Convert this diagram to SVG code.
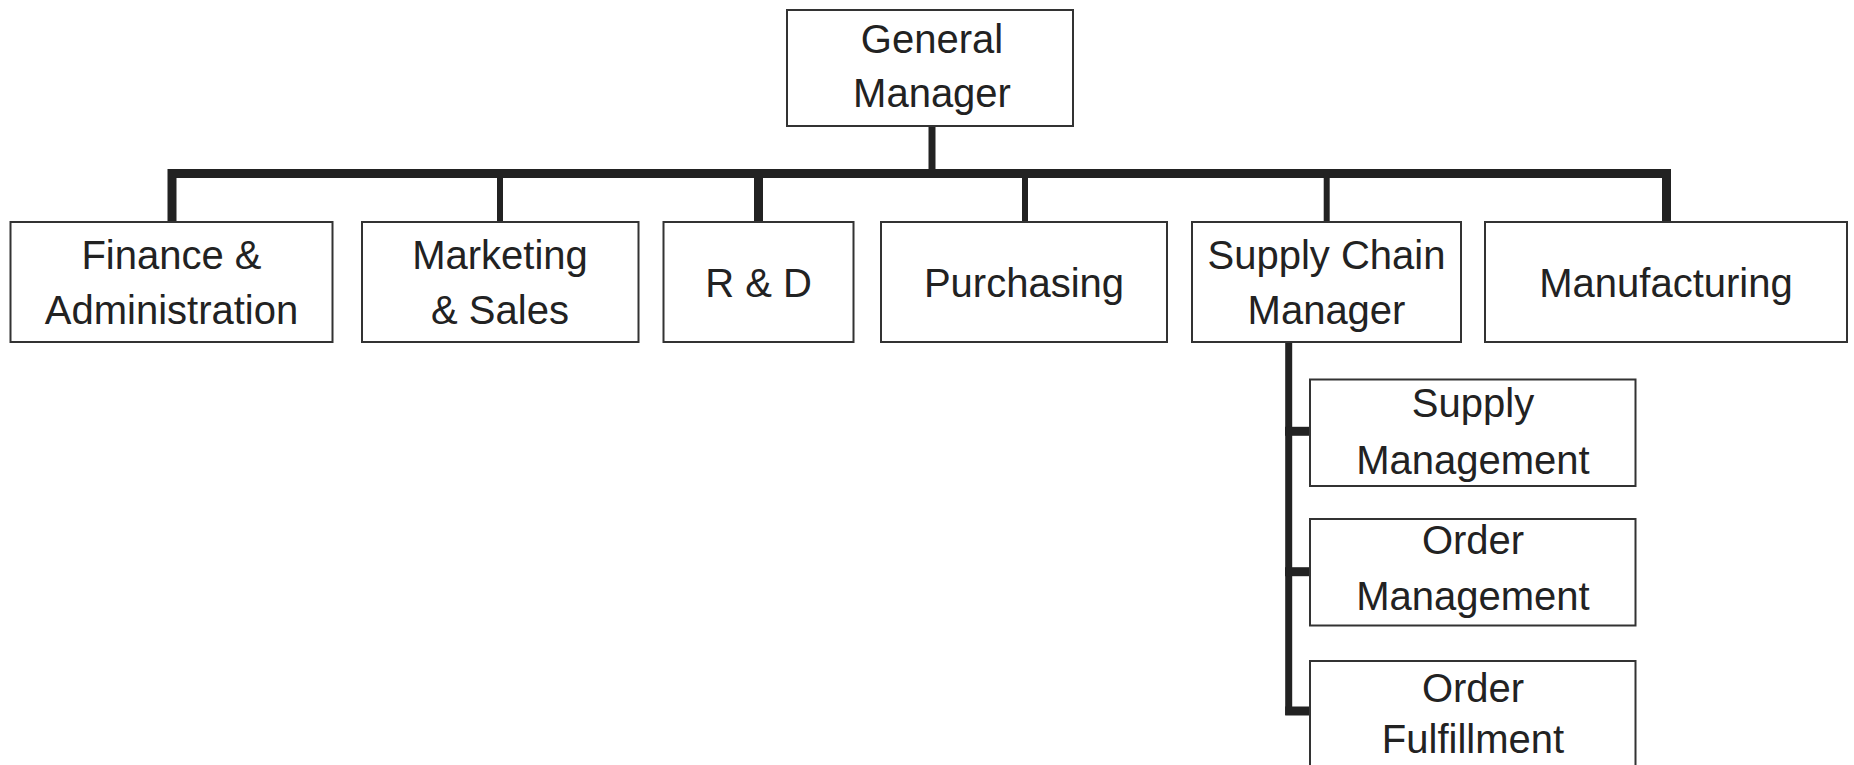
<svg xmlns="http://www.w3.org/2000/svg" width="1854" height="765" viewBox="0 0 1854 765">
<style>
.box{fill:#fff;stroke:#333;stroke-width:2}
.t{font-family:"Liberation Sans",Arial,sans-serif;font-size:40px;fill:#222;text-anchor:middle}
.thick{stroke:#222;stroke-width:9;fill:none;stroke-linejoin:miter}
.mid{stroke:#222;stroke-width:7;fill:none}
.thin{stroke:#222;stroke-width:6;fill:none}
</style>
<rect width="1854" height="765" fill="#fff"/>
<g id="connectors">
<line class="mid" x1="932" y1="126" x2="932" y2="174"/>
<path class="thick" d="M172,223 V173.5 H1666.5 V223"/>
<line class="thin" x1="500" y1="173" x2="500" y2="224"/>
<line class="thick" x1="758.5" y1="173" x2="758.5" y2="224"/>
<line class="thin" x1="1025" y1="173" x2="1025" y2="224"/>
<line class="thin" x1="1326.7" y1="173" x2="1326.7" y2="224"/>
<line class="mid" x1="1288.7" y1="337" x2="1288.7" y2="715"/>
<line class="thick" x1="1285" y1="431.3" x2="1310" y2="431.3"/>
<line class="thick" x1="1285" y1="571.7" x2="1310" y2="571.7"/>
<line class="thick" x1="1285.2" y1="711" x2="1310" y2="711"/>
</g>
<g id="general-manager">
<rect class="box" x="787" y="10" width="286" height="116"/>
<text class="t" x="932" y="52.7">General</text>
<text class="t" x="932" y="107.3">Manager</text>
</g>
<g id="finance">
<rect class="box" x="10.5" y="222" width="322" height="120"/>
<text class="t" x="171.5" y="269.3">Finance &amp;</text>
<text class="t" x="171.5" y="324.3">Administration</text>
</g>
<g id="marketing">
<rect class="box" x="362" y="222" width="276.5" height="120"/>
<text class="t" x="500" y="269.3">Marketing</text>
<text class="t" x="500" y="324.3">&amp; Sales</text>
</g>
<g id="rnd">
<rect class="box" x="663.5" y="222" width="190" height="120"/>
<text class="t" x="758.5" y="296.7">R &amp; D</text>
</g>
<g id="purchasing">
<rect class="box" x="881" y="222" width="286" height="120"/>
<text class="t" x="1024" y="296.7">Purchasing</text>
</g>
<g id="supply-chain-manager">
<rect class="box" x="1192" y="222" width="269" height="120"/>
<text class="t" x="1326.5" y="269">Supply Chain</text>
<text class="t" x="1326.5" y="324">Manager</text>
</g>
<g id="manufacturing">
<rect class="box" x="1485" y="222" width="362" height="120"/>
<text class="t" x="1666" y="296.7">Manufacturing</text>
</g>
<g id="supply-management">
<rect class="box" x="1310" y="379.5" width="325.5" height="106.5"/>
<text class="t" x="1473" y="417.3">Supply</text>
<text class="t" x="1473" y="474">Management</text>
</g>
<g id="order-management">
<rect class="box" x="1310" y="519" width="325.5" height="106.5"/>
<text class="t" x="1473" y="554">Order</text>
<text class="t" x="1473" y="610">Management</text>
</g>
<g id="order-fulfillment">
<rect class="box" x="1310" y="661" width="325.5" height="120"/>
<text class="t" x="1473" y="701.7">Order</text>
<text class="t" x="1473" y="753.3">Fulfillment</text>
</g>
</svg>
